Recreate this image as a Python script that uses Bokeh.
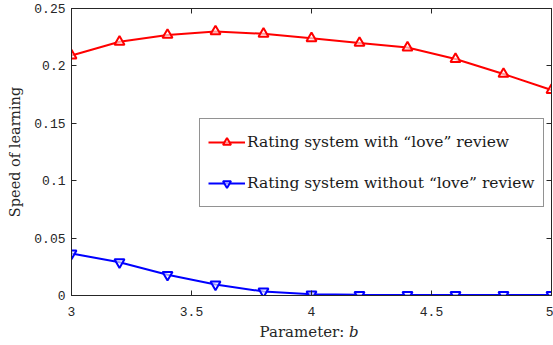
from bokeh.plotting import figure
from bokeh.models import LinearAxis, FixedTicker, Legend, LegendItem, Range1d
from bokeh.embed import file_html
from bokeh.resources import INLINE

b_values = [3.0, 3.2, 3.4, 3.6, 3.8, 4.0, 4.2, 4.4, 4.6, 4.8, 5.0]
with_love = [0.209, 0.221, 0.227, 0.230, 0.228, 0.224, 0.220, 0.216, 0.206, 0.193, 0.179]
without_love = [0.0366, 0.029, 0.018, 0.0096, 0.0035, 0.001, 0.0006, 0.0005, 0.0005, 0.0005, 0.0005]
x_ticks = [3, 3.5, 4, 4.5, 5]
y_ticks = [0, 0.05, 0.1, 0.15, 0.2, 0.25]
label_with = "Rating system with \u201clove\u201d review"
label_without = "Rating system without \u201clove\u201d review"
x_label = "Parameter:  \U0001D44F"
y_label = "Speed of learning"

serif = "DejaVu Serif"
mono = "Liberation Mono"

p = figure(width=553, height=345, output_backend="svg", toolbar_location=None,
           x_range=Range1d(3, 5), y_range=Range1d(0, 0.25),
           min_border_left=71, min_border_right=2, min_border_top=8, min_border_bottom=50)
p.xgrid.visible = False
p.ygrid.visible = False
p.outline_line_color = "#262626"
p.outline_line_width = 1
p.background_fill_color = "white"
p.border_fill_color = "white"

xa = p.below[0]
ya = p.left[0]

for ax, ticks in ((xa, x_ticks), (ya, y_ticks)):
    ax.ticker = FixedTicker(ticks=ticks)
    ax.major_tick_in = 5
    ax.major_tick_out = 0
    ax.minor_tick_line_color = None
    ax.axis_line_color = "#262626"
    ax.major_tick_line_color = "#262626"
    ax.major_label_text_font = mono
    ax.major_label_text_font_size = "13px"
    ax.major_label_text_color = "#262626"
xa.major_label_standoff = 11
ya.major_label_standoff = 6

for ax, txt, standoff, size in ((ya, y_label, 8, "14.5px"), (xa, x_label, 4, "15px")):
    ax.axis_label = txt
    ax.axis_label_text_font = serif
    ax.axis_label_text_font_style = "normal"
    ax.axis_label_text_font_size = size
    ax.axis_label_text_color = "#262626"
    ax.axis_label_standoff = standoff

for loc, ticks in (("right", y_ticks), ("above", x_ticks)):
    ax = LinearAxis(ticker=FixedTicker(ticks=ticks), major_tick_in=5, major_tick_out=0,
                    minor_tick_line_color=None, major_label_standoff=0,
                    major_label_overrides={t: "" for t in ticks},
                    major_label_text_font_size="1px",
                    axis_line_color="#262626", major_tick_line_color="#262626")
    p.add_layout(ax, loc)

r1 = p.line(b_values, with_love, line_color="red", line_width=2)
m1 = p.scatter(b_values, with_love, marker="triangle", size=10, line_color="red",
               line_width=2, fill_color="white", fill_alpha=0.6)
r2 = p.line(b_values, without_love, line_color="blue", line_width=2)
m2 = p.scatter(b_values, without_love, marker="inverted_triangle", size=10, line_color="blue",
               line_width=2, fill_color="white", fill_alpha=0.6)

legend = Legend(items=[LegendItem(label=label_with, renderers=[r1, m1]),
                       LegendItem(label=label_without, renderers=[r2, m2])],
                location=(128, 88), label_text_font=serif, label_text_font_size="15.5px",
                label_text_color="#1a1a1a",
                border_line_color="#262626", border_line_width=1, background_fill_alpha=1,
                glyph_width=37, label_standoff=2, spacing=11, padding=8, margin=0,
                label_height=30, label_width=286)
p.add_layout(legend, "center")

open("out.html", "w").write(file_html(p, INLINE))
